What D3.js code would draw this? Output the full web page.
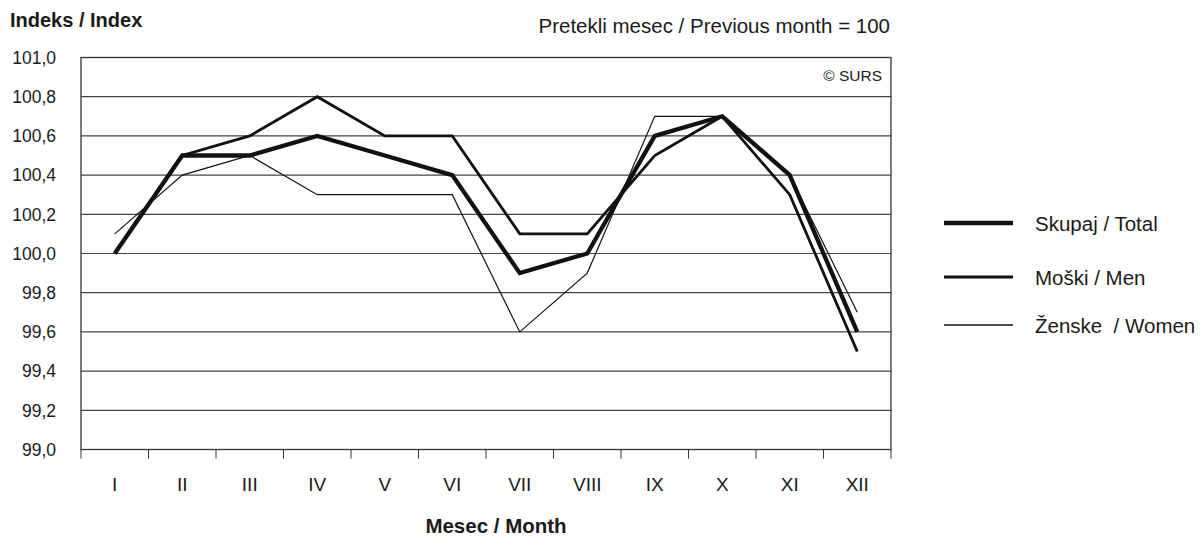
<!DOCTYPE html>
<html><head><meta charset="utf-8">
<script src="https://cdn.jsdelivr.net/npm/d3@7"></script>
<style>body{margin:0;background:#fff;} text{font-family:Arial,"Liberation Sans",sans-serif;fill:#1a1a1a;white-space:pre;}</style>
</head><body>
<svg id="c" width="1204" height="536"></svg>
<script>
const months = ["I","II","III","IV","V","VI","VII","VIII","IX","X","XI","XII"];
const total = [100.0,100.5,100.5,100.6,100.5,100.4,99.9,100.0,100.6,100.7,100.4,99.6];
const men   = [100.0,100.5,100.6,100.8,100.6,100.6,100.1,100.1,100.5,100.7,100.3,99.5];
const women = [100.1,100.4,100.5,100.3,100.3,100.3,99.6,99.9,100.7,100.7,100.4,99.7];
const yTicks = [99.0,99.2,99.4,99.6,99.8,100.0,100.2,100.4,100.6,100.8,101.0];
const seriesNames = ["Skupaj / Total","Moški / Men","Ženske  / Women"];

const svg = d3.select("#c");
const L=81, R=891, T=57.5, B=449.5;
const x = d3.scaleBand().domain(months).range([L,R]);
const y = d3.scaleLinear().domain([99,101]).range([B,T]);
const fmt = v => v.toFixed(1).replace(".",",");

// gridlines
svg.append("g").selectAll("line").data(yTicks).join("line")
  .attr("x1",L).attr("x2",R).attr("y1",d=>y(d)).attr("y2",d=>y(d))
  .attr("stroke","#444").attr("stroke-width",1.2);
// frame
svg.append("rect").attr("x",L).attr("y",T).attr("width",R-L).attr("height",B-T)
  .attr("fill","none").attr("stroke","#333").attr("stroke-width",1.3);

// y axis labels
svg.append("g").selectAll("text").data(yTicks).join("text")
  .attr("x",56).attr("y",d=>y(d)).attr("dy","0.36em").attr("text-anchor","end")
  .attr("font-size",17.5).text(fmt);

// x axis
const xAxis = d3.axisBottom(x).tickSize(0).tickPadding(0);
const gx = svg.append("g").attr("transform",`translate(0,${B})`).call(xAxis);
gx.select(".domain").remove();
gx.selectAll("text").attr("y",41.5).attr("dy",0).attr("font-size",19)
  .style("font-family","Arial, 'Liberation Sans', sans-serif").attr("fill","#1a1a1a");
// tick marks at band boundaries
const bounds = months.map(m=>x(m)).concat([R]);
svg.append("g").selectAll("line").data(bounds).join("line")
  .attr("x1",d=>d).attr("x2",d=>d).attr("y1",B).attr("y2",B+9)
  .attr("stroke","#333").attr("stroke-width",1);

const line = d3.line().x((d,i)=>x(months[i])+x.bandwidth()/2).y(d=>y(d));
const series = [
  {vals:women, w:1.2},
  {vals:men, w:2.8},
  {vals:total, w:4.3}
];
series.forEach(s=>{
  svg.append("path").attr("d",line(s.vals)).attr("fill","none")
    .attr("stroke","#111").attr("stroke-width",s.w).attr("stroke-linejoin","miter");
});

// legend
const legW=[4.5,3.2,1.5], legY=[223,277,325];
seriesNames.forEach((n,i)=>{
  svg.append("line").attr("x1",944).attr("x2",1013).attr("y1",legY[i]).attr("y2",legY[i])
    .attr("stroke","#111").attr("stroke-width",legW[i]);
  svg.append("text").attr("x",1035).attr("y",legY[i]+1).attr("dy","0.36em").attr("font-size",20.5)
    .attr("xml:space","preserve").text(n);
});

// titles
svg.append("text").attr("x",10).attr("y",27).attr("font-size",20).attr("font-weight","bold").text("Indeks / Index");
svg.append("text").attr("x",890).attr("y",33).attr("text-anchor","end").attr("font-size",20.5).text("Pretekli mesec / Previous month = 100");
svg.append("text").attr("x",496).attr("y",533).attr("text-anchor","middle").attr("font-size",20.5).attr("font-weight","bold").text("Mesec / Month");
svg.append("text").attr("x",882).attr("y",81).attr("text-anchor","end").attr("font-size",15.5).text("© SURS");
</script>
</body></html>
